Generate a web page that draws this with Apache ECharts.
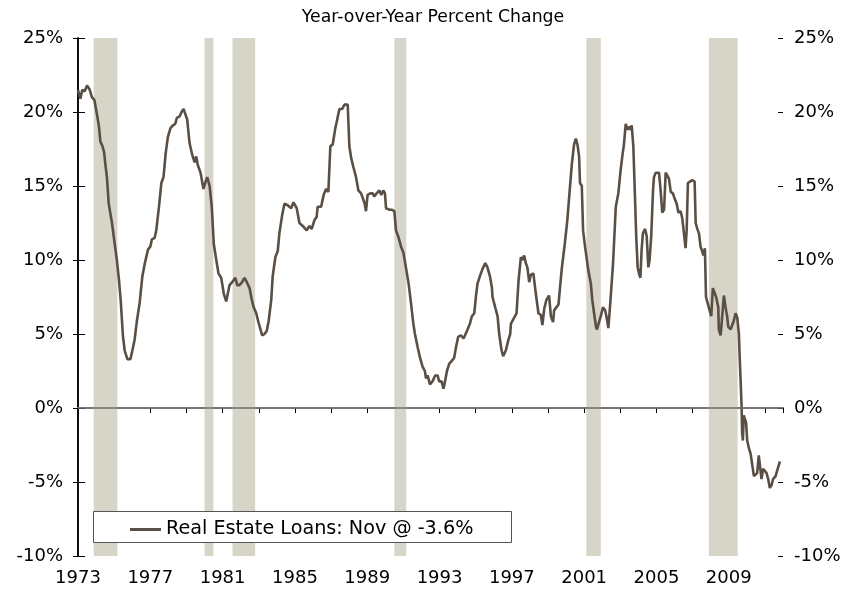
<!DOCTYPE html>
<html>
<head>
<meta charset="utf-8">
<script src="https://cdn.jsdelivr.net/npm/echarts@6/dist/echarts.min.js"></script>
<style>
html,body{margin:0;padding:0;background:#fff;}
#chart{width:866px;height:595px;}
</style>
</head>
<body>
<div id="chart"></div>
<script>
// Decimal-year dates of points
const dates = [
1973.00,1973.13,1973.24,1973.37,1973.50,1973.65,1973.77,1973.91,1973.98,1974.07,
1974.16,1974.24,1974.35,1974.44,1974.53,1974.60,1974.70,1974.88,1975.03,1975.15,
1975.27,1975.36,1975.49,1975.58,1975.73,1975.90,1976.01,1976.13,1976.26,1976.41,
1976.56,1976.70,1976.87,1977.00,1977.09,1977.24,1977.33,1977.48,1977.61,1977.73,
1977.85,1977.97,1978.11,1978.25,1978.38,1978.47,1978.62,1978.73,1978.84,1978.95,
1979.04,1979.17,1979.32,1979.45,1979.54,1979.63,1979.78,1979.94,1980.06,1980.15,
1980.28,1980.40,1980.51,1980.65,1980.77,1980.92,1981.07,1981.20,1981.29,1981.38,
1981.53,1981.70,1981.81,1981.93,1982.08,1982.21,1982.34,1982.49,1982.60,1982.72,
1982.86,1982.98,1983.09,1983.19,1983.32,1983.44,1983.55,1983.69,1983.77,1983.92,
1984.05,1984.14,1984.29,1984.42,1984.60,1984.79,1984.92,1985.10,1985.25,1985.43,
1985.65,1985.80,1985.93,1986.08,1986.20,1986.26,1986.45,1986.59,1986.72,1986.85,
1986.96,1987.09,1987.22,1987.31,1987.46,1987.61,1987.74,1987.83,1987.92,1988.01,
1988.11,1988.23,1988.38,1988.51,1988.66,1988.75,1988.86,1988.93,1989.02,1989.17,
1989.30,1989.39,1989.52,1989.67,1989.78,1989.89,1989.98,1990.04,1990.13,1990.22,
1990.35,1990.50,1990.59,1990.74,1990.87,1991.00,1991.14,1991.29,1991.42,1991.55,
1991.64,1991.79,1991.92,1992.06,1992.19,1992.25,1992.34,1992.47,1992.61,1992.76,
1992.89,1992.98,1993.11,1993.22,1993.32,1993.41,1993.54,1993.69,1993.81,1993.91,
1994.03,1994.18,1994.33,1994.42,1994.55,1994.68,1994.79,1994.92,1995.01,1995.10,
1995.23,1995.38,1995.53,1995.65,1995.79,1995.90,1995.93,1996.08,1996.21,1996.30,
1996.43,1996.52,1996.67,1996.81,1996.91,1996.95,1997.13,1997.26,1997.37,1997.50,
1997.59,1997.68,1997.77,1997.86,1997.96,1998.05,1998.19,1998.33,1998.47,1998.60,
1998.69,1998.79,1998.91,1999.06,1999.16,1999.28,1999.34,1999.46,1999.58,1999.67,
1999.76,1999.85,1999.93,2000.07,2000.20,2000.32,2000.44,2000.54,2000.63,2000.72,
2000.77,2000.87,2000.94,2001.05,2001.14,2001.23,2001.37,2001.45,2001.55,2001.64,
2001.70,2001.79,2001.92,2002.04,2002.16,2002.23,2002.34,2002.47,2002.60,2002.75,
2002.89,2003.02,2003.11,2003.20,2003.30,2003.39,2003.48,2003.58,2003.63,2003.72,
2003.80,2003.88,2003.96,2004.03,2004.11,2004.18,2004.25,2004.37,2004.46,2004.55,
2004.62,2004.71,2004.81,2004.86,2004.96,2005.14,2005.23,2005.32,2005.42,2005.51,
2005.60,2005.69,2005.79,2005.91,2006.02,2006.12,2006.21,2006.34,2006.43,2006.52,
2006.61,2006.67,2006.74,2006.85,2006.98,2007.11,2007.17,2007.26,2007.35,2007.44,
2007.53,2007.59,2007.68,2007.74,2007.85,2007.94,2008.03,2008.12,2008.22,2008.30,
2008.42,2008.45,2008.55,2008.64,2008.73,2008.82,2008.91,2008.97,2009.01,2009.10,
2009.19,2009.28,2009.38,2009.47,2009.56,2009.61,2009.67,2009.71,2009.74,2009.78,
2009.83,2009.89,2009.96,2010.02,2010.11,2010.21,2010.29,2010.39,2010.48,2010.57,
2010.66,2010.74,2010.81,2010.90,2011.00,2011.09,2011.18,2011.27,2011.37,2011.45,
2011.59,2011.71,2011.83
];
// Real estate loans, year-over-year percent change
const loanGrowth = [
21.5,20.9,21.5,21.4,21.8,21.5,21.0,20.8,20.7,19.7,
19.0,18.0,17.7,17.3,16.3,15.6,13.8,12.5,11.1,10.0,
8.6,7.3,4.8,3.9,3.3,3.3,3.9,4.6,5.9,7.1,
8.9,9.8,10.7,10.9,11.4,11.5,12.0,13.6,15.2,15.6,
17.2,18.3,18.9,19.1,19.2,19.6,19.7,20.0,20.2,20.2,
19.5,17.9,17.1,16.6,17.0,16.4,15.9,14.8,15.3,15.6,
15.0,13.6,11.1,10.0,9.1,8.8,7.7,7.2,7.2,8.3,
8.5,8.8,8.3,8.3,8.5,8.8,8.5,8.1,7.4,6.8,
6.4,5.8,5.7,4.9,5.0,5.2,5.9,7.3,8.9,10.2,
10.6,11.8,13.0,13.8,13.7,13.5,13.9,13.5,12.5,12.3,
12.0,12.3,12.1,12.7,12.9,13.6,13.6,14.4,14.8,14.6,
17.7,17.8,18.8,18.9,20.2,20.2,20.5,20.6,20.5,17.7,
16.9,16.3,15.6,14.7,14.5,14.2,13.8,13.3,14.4,14.5,
14.5,14.3,14.5,14.7,14.4,14.7,14.5,13.5,13.6,13.4,
13.4,13.3,12.0,11.5,10.9,10.5,9.5,8.4,7.1,5.7,
5.0,4.1,3.4,2.8,2.5,2.0,2.2,1.6,1.8,2.2,
2.2,1.8,1.8,1.3,1.9,2.5,3.0,3.2,3.4,4.1,
4.8,4.9,4.7,4.6,5.3,5.7,6.2,6.4,7.5,8.4,
8.9,9.4,9.8,9.5,8.9,8.1,7.5,6.8,6.2,5.0,
3.9,3.5,3.9,4.6,5.0,5.7,6.1,6.4,8.6,10.2,
10.0,10.3,9.8,9.5,8.5,9.0,9.1,7.7,6.4,6.3,
5.6,6.7,7.3,7.6,6.2,5.8,6.6,6.8,7.0,8.2,
9.4,9.4,11.1,12.7,14.7,16.5,17.8,18.2,17.8,17.0,
15.2,15.0,12.0,10.9,10.8,9.3,8.4,7.3,6.4,5.6,
5.3,5.4,6.2,6.8,6.6,6.2,5.4,7.5,9.8,13.6,
14.5,16.1,17.0,17.8,19.2,18.8,19.0,18.8,19.1,17.7,
14.7,11.6,9.5,9.1,8.8,10.7,11.8,12.1,11.6,9.5,
10.0,11.6,14.7,15.6,15.9,15.9,14.7,13.2,13.4,15.9,
16.0,15.5,14.6,14.5,14.1,13.8,13.2,13.3,12.8,11.8,
10.8,12.0,15.2,15.3,15.4,15.3,12.5,12.1,11.8,10.9,
10.6,10.3,10.8,7.5,7.4,6.6,6.2,8.1,8.0,7.5,
6.8,5.3,4.9,5.0,7.6,6.8,6.2,5.5,5.5,5.3,
5.2,5.9,6.4,6.1,5.0,3.2,1.4,0.1,-1.7,-2.2,
-0.5,-0.6,-1.0,-2.2,-2.7,-3.1,-3.2,-4.6,-4.6,-4.4,
-3.2,-3.1,-4.8,-4.1,-4.2,-4.4,-4.8,-5.4,-5.2,-4.8,
-4.6,-4.1,-3.6
];
// Recession periods (decimal years)
const recessionStarts = [1973.87, 1980.00, 1981.55, 1990.50, 2001.12, 2007.90];
const recessionEnds   = [1975.18, 1980.49, 1982.80, 1991.16, 2001.92, 2009.49];
// Axis ticks / labels
const xLabelYears = [1973, 1977, 1981, 1985, 1989, 1993, 1997, 2001, 2005, 2009];
const baseYear = 1973;
const endYear = 2012;
const yMin = -10, yMax = 25, yStep = 5;
const seriesName = 'Real Estate Loans: Nov @ -3.6%';
const subtitle = 'Year-over-Year Percent Change';

const n = Math.min(dates.length, loanGrowth.length);
const lineData = [];
for (let i = 0; i < n; i++) lineData.push([dates[i] - baseYear, loanGrowth[i]]);
const bands = recessionStarts.map((s, i) => [{ xAxis: s - baseYear }, { xAxis: recessionEnds[i] - baseYear }]);

const font = 'DejaVu Sans, Verdana, sans-serif';
const lineColor = '#5a4f45';
const chart = echarts.init(document.getElementById('chart'), null, { renderer: 'canvas' });

const yCommon = { type: 'value', min: yMin, max: yMax, interval: yStep, splitLine: { show: false } };

chart.setOption({
  animation: false,
  backgroundColor: '#ffffff',
  title: {
    text: subtitle,
    left: 'center',
    top: 4,
    textStyle: { fontFamily: font, fontSize: 17.3, fontWeight: 'normal', color: '#000' }
  },
  grid: { left: 78, right: 83, top: 38, bottom: 39, containLabel: false },
  legend: {
    data: [seriesName],
    icon: 'rect',
    left: 130,
    top: 520,
    padding: 0,
    itemWidth: 31,
    itemHeight: 3,
    itemGap: 4,
    z: 20,
    itemStyle: { color: lineColor, borderWidth: 0 },
    textStyle: { fontFamily: font, fontSize: 19.2, color: '#000', padding: [0, 0, 0, 0] }
  },
  graphic: [{
    type: 'rect',
    z: 15,
    shape: { x: 93.5, y: 511.5, width: 418, height: 31 },
    style: { fill: '#ffffff', stroke: '#555555', lineWidth: 1 }
  }],
  xAxis: [{
    type: 'value',
    min: 0,
    max: endYear - baseYear,
    interval: 2,
    position: 'bottom',
    splitLine: { show: false },
    axisLine: { lineStyle: { color: '#000', width: 1.5 } },
    axisTick: { show: true, inside: false, length: 5, lineStyle: { color: '#000', width: 1 } },
    axisLabel: {
      margin: 13,
      fontFamily: font, fontSize: 18, color: '#000',
      formatter: v => {
        const y = Math.round(v + baseYear);
        return xLabelYears.indexOf(y) >= 0 && Math.abs(v - Math.round(v)) < 1e-6 ? String(y) : '';
      }
    }
  }, {
    type: 'value',
    min: 0,
    max: endYear - baseYear,
    position: 'top',
    splitLine: { show: false },
    axisLine: { lineStyle: { color: '#8c8c8c', width: 2 } },
    axisTick: { show: false },
    axisLabel: { show: false }
  }],
  yAxis: [
    Object.assign({}, yCommon, {
      position: 'left',
      axisLine: { show: true, lineStyle: { color: '#000', width: 1.5 } },
      axisTick: { show: true, length: 5, lineStyle: { color: '#000' } },
      axisLabel: { margin: 15, fontFamily: font, fontSize: 18, color: '#000', formatter: v => v + '%' }
    }),
    Object.assign({}, yCommon, {
      position: 'right',
      axisLine: { show: true, lineStyle: { color: '#000', width: 1.5 } },
      axisTick: { show: true, length: 6, lineStyle: { color: '#000' } },
      axisLabel: { margin: 11, fontFamily: font, fontSize: 18, color: '#000', formatter: v => v + '%' }
    }),
    Object.assign({}, yCommon, {
      position: 'left',
      axisLine: { show: false },
      axisTick: { show: true, inside: true, length: 7, lineStyle: { color: '#000' } },
      axisLabel: { show: false }
    }),
    Object.assign({}, yCommon, {
      position: 'right',
      axisLine: { show: false },
      axisTick: { show: true, inside: true, length: 5, lineStyle: { color: '#000' } },
      axisLabel: { show: false }
    })
  ],
  series: [{
    name: 'Recessions',
    type: 'line',
    data: [],
    z: 1,
    silent: true,
    markArea: {
      silent: true,
      itemStyle: { color: '#d7d4c8' },
      data: bands
    },
    markLine: {
      silent: true,
      symbol: ['none', 'none'],
      label: { show: false },
      lineStyle: { color: '#6e6e6e', width: 1.5, type: 'solid' },
      data: [{ yAxis: 0 }]
    }
  }, {
    name: seriesName,
    type: 'line',
    data: lineData,
    z: 3,
    showSymbol: false,
    symbol: 'none',
    lineStyle: { color: lineColor, width: 2.6 },
    itemStyle: { color: lineColor }
  }]
});
</script>
</body>
</html>
